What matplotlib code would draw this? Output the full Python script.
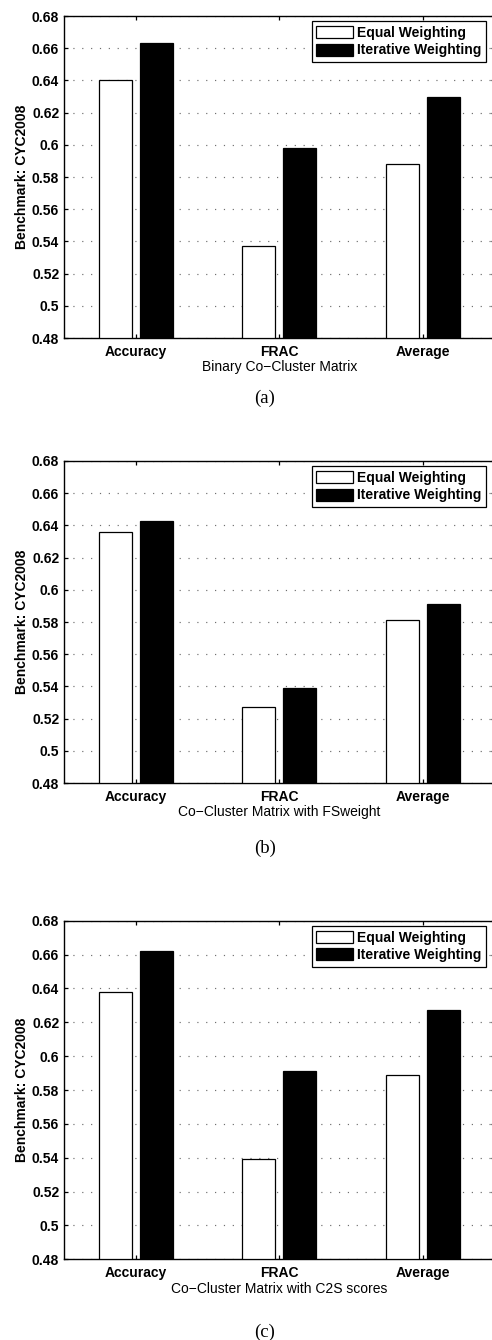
import matplotlib
matplotlib.use("Agg")
import matplotlib.pyplot as plt
import numpy as np

categories = ["Accuracy", "FRAC", "Average"]
series_names = ["Equal Weighting", "Iterative Weighting"]

equal_a = [0.640, 0.537, 0.588]
iter_a = [0.663, 0.598, 0.630]
equal_b = [0.636, 0.527, 0.581]
iter_b = [0.643, 0.539, 0.591]
equal_c = [0.638, 0.539, 0.589]
iter_c = [0.662, 0.591, 0.627]

xlabels = ["Binary Co\u2212Cluster Matrix",
           "Co\u2212Cluster Matrix with FSweight",
           "Co\u2212Cluster Matrix with C2S scores"]
panel_tags = ["(a)", "(b)", "(c)"]
ylabel = "Benchmark: CYC2008"
yticks = [0.48, 0.50, 0.52, 0.54, 0.56, 0.58, 0.60, 0.62, 0.64, 0.66, 0.68]
ytick_labels = ["0.48", "0.5", "0.52", "0.54", "0.56", "0.58", "0.6", "0.62", "0.64", "0.66", "0.68"]

plt.rcParams['font.family'] = ['Liberation Sans', 'DejaVu Sans']

W, H = 492, 1340
fig = plt.figure(figsize=(W / 100, H / 100), dpi=100)
fig.patch.set_facecolor("white")

# axes boxes in pixels: (left, top, right, bottom)
boxes = [(64.0, 16.0, 494.75, 338.0),
         (64.0, 461.0, 494.75, 783.0),
         (64.0, 920.7, 494.75, 1259.3)]
tag_y = [398, 848, 1332]
data = [(equal_a, iter_a), (equal_b, iter_b), (equal_c, iter_c)]

x = np.arange(1, len(categories) + 1)
bw = 0.2286
off = 0.1429

for i, ((l, t, r, b), (eq, it)) in enumerate(zip(boxes, data)):
    ax = fig.add_axes([l / W, 1 - b / H, (r - l) / W, (b - t) / H])
    ax.set_xlim(0.5, 3.5)
    ax.set_ylim(0.48, 0.68)
    ax.bar(x - off, np.array(eq) - 0.48, bw, bottom=0.48, color="white",
           edgecolor="black", linewidth=0.9, label=series_names[0], zorder=3)
    ax.bar(x + off, np.array(it) - 0.48, bw, bottom=0.48, color="black",
           edgecolor="black", linewidth=0.9, label=series_names[1], zorder=3)
    ax.set_yticks(yticks)
    ax.set_yticklabels(ytick_labels, fontsize=10, fontweight="bold")
    ax.set_xticks(x)
    ax.set_xticklabels(categories, fontsize=10, fontweight="bold")
    ax.tick_params(axis="both", direction="in", length=3, width=0.9,
                   top=True, right=True, pad=3.5)
    ax.tick_params(axis="x", pad=5)
    ax.yaxis.grid(True, color="#6e6e6e", linestyle=(0, (1, 6.5)), linewidth=0.85)
    ax.set_axisbelow(True)
    for s in ax.spines.values():
        s.set_linewidth(1.0)
    ax.set_ylabel(ylabel, fontsize=10, fontweight="bold", labelpad=2)
    ax.set_xlabel(xlabels[i], fontsize=10, labelpad=1)
    # legend box: right edge at 486 px, top 5 px below axes top
    leg = ax.legend(loc="upper right", bbox_to_anchor=(486 / W, 1 - (t + 5) / H),
                    bbox_transform=fig.transFigure, borderaxespad=0,
                    prop={"size": 10, "weight": "bold"}, fancybox=False,
                    frameon=True, edgecolor="black", framealpha=1,
                    handlelength=2.6, handleheight=0.95, handletextpad=0.3,
                    labelspacing=0.25, borderpad=0.35)
    leg.get_frame().set_linewidth(0.9)
    fig.text(265 / W, 1 - tag_y[i] / H, panel_tags[i], ha="center", va="center",
             fontsize=13.5, family=["Liberation Serif", "DejaVu Serif"])

fig.savefig("out.png", dpi=100)
